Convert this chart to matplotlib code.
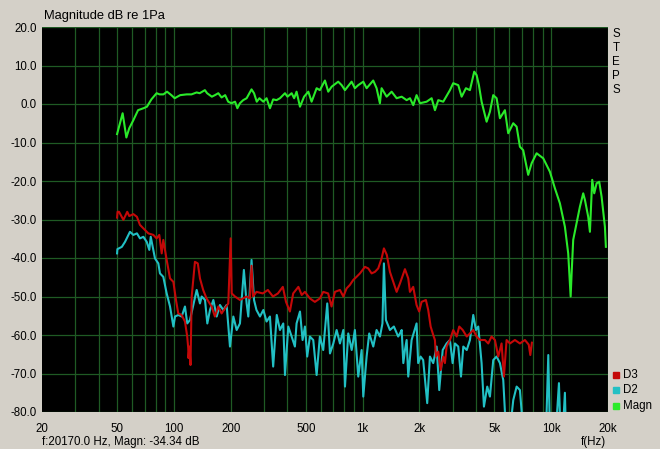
#!/usr/bin/env python3
"""
plot.py

Magnitude and distortion (D2, D3) response, drawn in the style of an
old measurement program: black plot area, dark green grid, grey window.
Output: out.png (660x449)
"""

import matplotlib
matplotlib.use("Agg")
import matplotlib.pyplot as plt
from matplotlib.ticker import FixedLocator, NullLocator


# --- data (Hz, dB) ---
magn_freq = [50, 53.5, 56, 58, 61, 64.6, 69, 72, 76, 81, 84, 88, 92, 97, 101,
             108, 117, 124, 132, 137, 146, 150, 159, 165, 172, 179, 187, 194,
             202, 211, 217, 224, 233, 243, 258, 266, 275, 284, 298, 310, 323,
             336, 350, 365, 388, 400, 421, 434, 447, 466, 490, 516, 537, 571,
             594, 632, 658, 686, 743, 775, 807, 875, 911, 949, 1009, 1051,
             1139, 1187, 1236, 1262, 1342, 1426, 1516, 1612, 1713, 1784, 1857,
             1934, 2015, 2186, 2324, 2420, 2520, 2678, 2906, 3024, 3216, 3352,
             3532, 3708, 3908, 4024, 4138, 4276, 4546, 4734, 4928, 5136, 5348,
             5684, 5918, 6292, 6558, 6826, 7106, 7552, 7874, 8368, 9072, 9843,
             10462, 11118, 11820, 12306, 12677, 12830, 13080, 13632, 14193,
             14780, 15090, 15710, 16040, 16496, 16904, 17406, 17966, 18500,
             19260, 19490]
magn_db = [-7.8, -2.4, -8.7, -6.3, -4.2, -1.6, -1.1, -0.7, 1.2, 2.8, 2.5, 2.5,
           3.2, 2.3, 1.5, 2.3, 2.5, 2.5, 3.0, 2.8, 3.6, 2.8, 1.9, 2.3, 2.8,
           1.7, 2.3, 0.6, 0.2, 0.6, -1.1, 0.2, 1.0, 1.5, 3.8, 2.8, 0.6, 1.5,
           0.6, 1.5, -1.1, 1.2, 1.0, 1.5, 2.8, 1.9, 2.8, 1.5, 3.2, -0.7, 1.9,
           3.2, 0.6, 4.1, 3.6, 6.1, 3.2, 4.5, 5.8, 4.9, 3.6, 5.8, 4.1, 4.9,
           5.8, 4.1, 6.1, 4.1, 0.2, 4.1, 1.9, 3.2, 1.5, 1.9, 1.0, 1.5, -0.3,
           2.3, 0.2, 0.6, 1.5, -1.6, 1.0, 0.6, 3.6, 5.4, 4.9, 1.9, 4.1, 3.6,
           8.4, 7.5, 4.9, 0.6, -4.6, -2.0, 2.3, 1.5, -3.7, -1.6, -7.6, -5.0,
           -5.9, -11.1, -12.0, -18.4, -15.4, -12.8, -14.1, -17.6, -21.9,
           -25.8, -31.9, -38.8, -50.0, -44.0, -35.3, -31.0, -26.7, -23.2,
           -24.9, -29.3, -33.2, -19.7, -23.2, -20.6, -20.2, -24.1, -31.9,
           -37.1]

d3_freq = [50, 50.3, 51.2, 54, 56.6, 58, 61, 63.7, 66.1, 68.9, 73.2, 77.8, 81,
           83.7, 86.2, 87.9, 91.6, 95.4, 99.4, 102.6, 105.5, 109.9, 114.5,
           117.7, 119.2, 119.5, 121, 122.5, 124.3, 129.3, 133.9, 137.5, 143,
           149, 158.5, 165, 172, 179, 186.6, 194.3, 200, 202.6, 210.8, 224,
           243, 253, 258, 263, 274, 296, 315, 335, 356, 378, 393, 412, 429,
           457, 476, 495, 526, 559, 594, 619, 657, 685, 714, 759, 791, 823,
           857, 893, 929, 969, 1030, 1072, 1117, 1163, 1211, 1262, 1298, 1345,
           1397, 1444, 1516, 1579, 1678, 1747, 1783, 1856, 1933, 1996, 2055,
           2167, 2229, 2296, 2370, 2419, 2449, 2519, 2594, 2678, 2733, 2790,
           2906, 3026, 3154, 3256, 3396, 3567, 3709, 3862, 4024, 4190, 4454,
           4638, 4830, 5032, 5240, 5457, 5615, 5800, 6042, 6422, 6826, 7256,
           7600, 7750, 7900]
d3_db = [-29.5, -28.0, -28.0, -30.1, -28.0, -29.1, -28.6, -29.3, -31.4, -32.3,
         -33.6, -34.0, -34.9, -34.0, -38.8, -35.3, -40.5, -45.3, -46.2, -50.9,
         -54.4, -54.8, -56.5, -60.4, -63.5, -66.0, -63.0, -67.8, -50.0, -41.0,
         -41.4, -45.3, -48.3, -50.5, -52.6, -55.2, -52.6, -54.4, -53.1, -51.8,
         -34.9, -49.2, -50.0, -50.9, -50.0, -50.5, -42.0, -50.0, -48.8, -49.2,
         -48.3, -50.0, -49.2, -47.5, -51.4, -53.9, -49.2, -47.5, -49.6, -48.8,
         -50.5, -51.4, -50.5, -48.8, -49.2, -52.6, -48.8, -48.3, -50.0, -47.9,
         -47.0, -45.7, -44.9, -44.0, -42.3, -42.7, -44.0, -43.6, -42.7, -40.1,
         -37.5, -39.2, -43.6, -45.7, -48.8, -46.6, -42.9, -45.3, -48.8, -47.5,
         -52.2, -53.9, -51.4, -50.9, -53.5, -57.8, -60.0, -61.3, -65.6, -64.3,
         -69.1, -65.6, -67.3, -63.0, -61.3, -58.7, -60.4, -57.8, -58.7, -60.4,
         -59.6, -58.7, -60.4, -61.3, -61.3, -62.2, -60.4, -61.3, -65.6, -62.2,
         -70.8, -61.3, -62.2, -61.3, -62.2, -61.3, -62.5, -65.2, -62.0]

# values below -80 dB are off the chart bottom in the reference
d2_freq = [50, 50.2, 53, 55.1, 58.5, 61, 63.7, 66.1, 68.9, 71.8, 74.1, 75.4,
           77.8, 79.4, 82.7, 84.4, 87.9, 91.6, 95.4, 99.4, 101.4, 105.6, 110,
           114.5, 117.7, 121.7, 126.8, 132.1, 137.5, 140.4, 146.2, 150.4,
           155.4, 161.9, 168.6, 175.5, 182.7, 190.4, 198.3, 206.6, 215.2, 224,
           235, 243, 248, 258, 266, 274, 286, 298, 310, 323, 336, 351, 365,
           380, 388, 404, 421, 438, 447, 466, 481, 495, 509, 526, 548, 571,
           594, 619, 650, 672, 700, 729, 759, 791, 807, 840, 876, 911, 949,
           989, 1009, 1051, 1085, 1140, 1187, 1237, 1275, 1298, 1330, 1397,
           1466, 1545, 1579, 1612, 1645, 1678, 1713, 1747, 1820, 1934, 1972,
           2030, 2096, 2202, 2276, 2370, 2470, 2550, 2660, 2790, 2906, 3002,
           3089, 3216, 3325, 3420, 3567, 3709, 3862, 3990, 4106, 4276, 4400,
           4582, 4734, 4930, 5135, 5348, 5570, 5756, 6042, 6294, 6558, 6826,
           7108, 9390, 9650, 9840, 10590, 10990, 11190, 11530, 11820, 11960]
d2_db = [-38.8, -37.7, -37.1, -35.8, -33.2, -34.0, -33.6, -34.9, -34.5, -35.8,
         -37.9, -34.5, -37.9, -40.1, -41.4, -44.0, -44.9, -49.2, -52.6, -57.8,
         -55.2, -54.8, -55.2, -52.6, -57.0, -56.1, -52.2, -48.3, -51.8, -50.0,
         -50.9, -57.0, -53.5, -50.9, -55.2, -52.2, -53.5, -52.2, -63.0, -55.2,
         -58.7, -57.0, -43.1, -51.8, -55.2, -40.5, -50.9, -53.5, -55.2, -53.5,
         -56.5, -55.2, -68.2, -54.8, -58.7, -57.0, -70.4, -57.8, -60.4, -63.0,
         -57.0, -53.9, -61.3, -57.8, -65.6, -60.4, -61.3, -70.4, -60.4, -63.9,
         -51.8, -64.8, -62.2, -58.7, -62.2, -58.7, -73.4, -59.6, -63.9, -58.7,
         -70.8, -63.9, -76.0, -65.6, -59.6, -63.0, -58.7, -60.4, -57.0, -41.4,
         -56.1, -58.7, -57.8, -60.4, -59.6, -58.7, -67.3, -63.9, -61.3, -70.8,
         -61.3, -57.0, -67.3, -65.6, -66.5, -77.7, -65.6, -67.3, -63.0, -74.3,
         -63.9, -62.2, -61.3, -67.3, -62.2, -63.0, -70.8, -63.0, -63.9, -61.3,
         -54.8, -58.7, -57.8, -67.3, -78.6, -73.4, -76.0, -66.5, -65.6, -67.3,
         -71.7, -85.0, -85.0, -76.9, -73.4, -74.3, -85.0, -85.0, -65.2, -85.0,
         -85.0, -72.5, -85.0, -85.0, -75.0, -85.0]

x_ticks = [20, 50, 100, 200, 500, 1000, 2000, 5000, 10000, 20000]
x_tick_labels = ["20", "50", "100", "200", "500", "1k", "2k", "5k", "10k", "20k"]
x_grid = [30, 40, 50, 60, 70, 80, 90, 100, 200, 300, 400, 500, 600, 700,
          800, 900, 1000, 2000, 3000, 4000, 5000, 6000, 7000, 8000, 9000,
          10000, 20000]
y_ticks = [20, 10, 0, -10, -20, -30, -40, -50, -60, -70, -80]

legend_labels = ["D3", "D2", "Magn"]

WINDOW_GREY = "#d4d0c8"
GRID_GREEN = "#1f5a24"
RED = "#c40808"
CYAN = "#22c0c4"
GREEN = "#2aea2a"


def main() -> None:
    plt.rcParams["font.family"] = ["Liberation Sans", "DejaVu Sans"]
    fs = 8.3

    fig = plt.figure(figsize=(6.6, 4.49), dpi=100, facecolor=WINDOW_GREY)
    ax = fig.add_axes([42 / 660, 37 / 449, 566 / 660, 385 / 449])
    ax.set_facecolor("black")

    ax.set_xscale("log")
    ax.set_xlim(20, 20000)
    ax.set_ylim(-80, 20)

    # grid drawn by hand so the log minor lines match the reference
    for f in x_grid:
        ax.axvline(f, color=GRID_GREEN, lw=0.9, zorder=1)
    for v in y_ticks:
        ax.axhline(v, color=GRID_GREEN, lw=0.9, zorder=1)

    ax.plot(d2_freq, d2_db, color=CYAN, lw=1.5, zorder=3)
    ax.plot(d3_freq, d3_db, color=RED, lw=1.5, zorder=4)
    ax.plot(magn_freq, magn_db, color=GREEN, lw=1.5, zorder=5)

    ax.xaxis.set_major_locator(FixedLocator(x_ticks))
    ax.xaxis.set_minor_locator(NullLocator())
    ax.set_xticklabels(x_tick_labels)
    ax.set_yticks(y_ticks)
    ax.set_yticklabels([f"{v:.1f}" for v in y_ticks])
    ax.tick_params(length=0, labelsize=fs, colors="black", pad=4)
    ax.tick_params(axis="x", pad=8)
    for s in ax.spines.values():
        s.set_visible(False)

    # window texts
    fig.text(44 / 660, 1 - 15.5 / 449, "Magnitude dB re 1Pa", fontsize=9.3,
             va="center", ha="left")
    fig.text(42 / 660, 1 - 441.5 / 449, "f:20170.0 Hz, Magn: -34.34 dB",
             fontsize=fs, va="center", ha="left")
    fig.text(606 / 660, 1 - 441.5 / 449, "f(Hz)", fontsize=fs,
             va="center", ha="right")
    for i, ch in enumerate("STEPS"):
        fig.text(616 / 660, 1 - (34 + i * 14) / 449, ch, fontsize=fs,
                 va="center", ha="center")

    # legend: small colour squares
    for i, (lab, col) in enumerate(zip(legend_labels, [RED, CYAN, GREEN])):
        y = 1 - (374.5 + i * 15.5) / 449
        fig.patches.append(plt.Rectangle((612.5 / 660, y - 3 / 449),
                                         6 / 660, 6 / 449, color=col,
                                         transform=fig.transFigure,
                                         figure=fig))
        fig.text(623 / 660, y, lab, fontsize=fs, va="center", ha="left")

    fig.savefig("out.png", dpi=100, facecolor=WINDOW_GREY)
    plt.close(fig)


if __name__ == "__main__":
    main()
